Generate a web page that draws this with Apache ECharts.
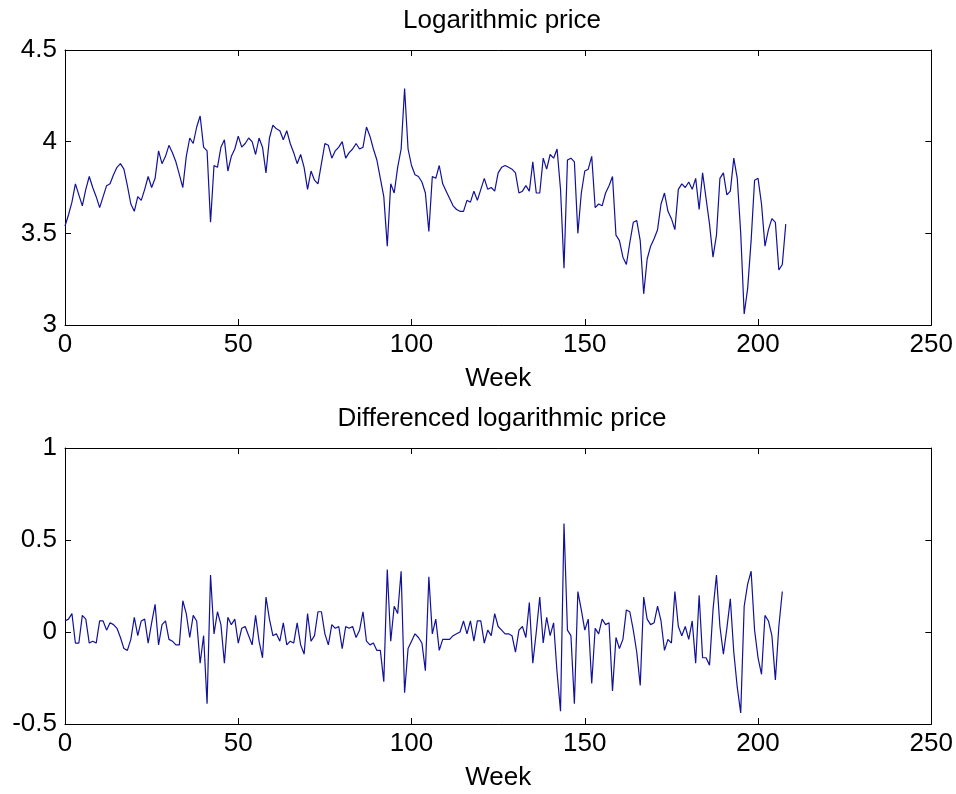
<!DOCTYPE html>
<html>
<head>
<meta charset="utf-8">
<script src="https://cdn.jsdelivr.net/npm/echarts@6/dist/echarts.min.js"></script>
<style>
html,body{margin:0;padding:0;background:#fff;}
#chart{width:956px;height:794px;}
</style>
</head>
<body>
<div id="chart"></div>
<script>
// Logarithmic price, week 0..208
var logPrice = [
3.54,3.60,3.67,3.77,3.71,3.65,3.74,3.81,3.75,3.70,
3.64,3.70,3.76,3.77,3.82,3.86,3.88,3.85,3.76,3.66,
3.62,3.70,3.68,3.74,3.81,3.75,3.80,3.95,3.88,3.92,
3.98,3.94,3.89,3.82,3.75,3.92,4.02,3.99,4.08,4.14,
3.97,3.95,3.56,3.87,3.86,3.97,4.01,3.84,3.92,3.96,
4.03,3.97,3.99,4.02,4.00,3.93,4.02,3.97,3.83,4.02,
4.09,4.07,4.06,4.01,4.06,3.99,3.94,3.88,3.93,3.86,
3.74,3.84,3.79,3.77,3.88,3.99,3.98,3.91,3.95,3.97,
4.00,3.91,3.94,3.96,3.99,3.96,3.97,4.08,4.03,3.96,
3.90,3.80,3.70,3.43,3.77,3.72,3.86,3.96,4.29,3.96,
3.87,3.82,3.81,3.78,3.72,3.51,3.81,3.80,3.87,3.77,
3.73,3.69,3.65,3.63,3.62,3.62,3.68,3.67,3.73,3.68,
3.74,3.80,3.74,3.75,3.73,3.83,3.86,3.87,3.86,3.85,
3.83,3.72,3.73,3.76,3.73,3.89,3.72,3.72,3.91,3.85,
3.93,3.91,3.96,3.74,3.31,3.90,3.91,3.89,3.50,3.72,
3.84,3.85,3.92,3.64,3.66,3.65,3.72,3.76,3.81,3.49,
3.46,3.37,3.33,3.45,3.56,3.57,3.46,3.17,3.36,3.43,
3.47,3.52,3.66,3.72,3.62,3.58,3.52,3.74,3.77,3.75,
3.78,3.74,3.80,3.63,3.83,3.69,3.55,3.37,3.49,3.80,
3.83,3.71,3.73,3.91,3.80,3.50,3.06,3.20,3.46,3.79,
3.80,3.66,3.43,3.52,3.58,3.56,3.30,3.33,3.55
];

// Differenced logarithmic price, week 0..207
var diffPrice = [
0.06,0.07,0.10,-0.06,-0.06,0.09,0.07,-0.06,-0.05,-0.06,
0.06,0.06,0.01,0.05,0.04,0.02,-0.03,-0.09,-0.10,-0.04,
0.08,-0.02,0.06,0.07,-0.06,0.05,0.15,-0.07,0.04,0.06,
-0.04,-0.05,-0.07,-0.07,0.17,0.10,-0.03,0.09,0.06,-0.17,
-0.02,-0.39,0.31,-0.01,0.11,0.04,-0.17,0.08,0.04,0.07,
-0.06,0.02,0.03,-0.02,-0.07,0.09,-0.05,-0.14,0.19,0.07,
-0.02,-0.01,-0.05,0.05,-0.07,-0.05,-0.06,0.05,-0.07,-0.12,
0.10,-0.05,-0.02,0.11,0.11,-0.01,-0.07,0.04,0.02,0.03,
-0.09,0.03,0.02,0.03,-0.03,0.01,0.11,-0.05,-0.07,-0.06,
-0.10,-0.10,-0.27,0.34,-0.05,0.14,0.10,0.33,-0.33,-0.09,
-0.05,-0.01,-0.03,-0.06,-0.21,0.30,-0.01,0.07,-0.10,-0.04,
-0.04,-0.04,-0.02,-0.01,0.00,0.06,-0.01,0.06,-0.05,0.06,
0.06,-0.06,0.01,-0.02,0.10,0.03,0.01,-0.01,-0.01,-0.02,
-0.11,0.01,0.03,-0.03,0.16,-0.17,0.00,0.19,-0.06,0.08,
-0.02,0.05,-0.22,-0.43,0.59,0.01,-0.02,-0.39,0.22,0.12,
0.01,0.07,-0.28,0.02,-0.01,0.07,0.04,0.05,-0.32,-0.03,
-0.09,-0.04,0.12,0.11,0.01,-0.11,-0.29,0.19,0.07,0.04,
0.05,0.14,0.06,-0.10,-0.04,-0.06,0.22,0.03,-0.02,0.03,
-0.04,0.06,-0.17,0.20,-0.14,-0.14,-0.18,0.12,0.31,0.03,
-0.12,0.02,0.18,-0.11,-0.30,-0.44,0.14,0.26,0.33,0.01,
-0.14,-0.23,0.09,0.06,-0.02,-0.26,0.03,0.22
];

var xTicks = [0, 50, 100, 150, 200, 250];
var yTicksTop = [3, 3.5, 4, 4.5];
var yTicksBottom = [-0.5, 0, 0.5, 1];

var titles = ['Logarithmic price', 'Differenced logarithmic price'];
var xLabel = 'Week';

function pairs(arr) {
  var out = [];
  for (var i = 0; i < arr.length; i++) out.push([i, arr[i]]);
  return out;
}

var FONT = '"Liberation Sans", Arial, sans-serif';
var FS = 26;
var lineColor = '#000';

function xAx(gi, pos) {
  var bottom = pos === 'bottom';
  return {
    type: 'value', gridIndex: gi, position: pos,
    min: xTicks[0], max: xTicks[xTicks.length - 1],
    interval: xTicks[1] - xTicks[0],
    axisLine: {show: true, onZero: false, lineStyle: {color: lineColor, width: 1}},
    axisTick: {show: true, inside: true, length: 6, lineStyle: {color: lineColor}},
    axisLabel: {show: bottom, color: '#000', fontFamily: FONT, fontSize: FS, margin: 7},
    splitLine: {show: false},
    name: bottom ? xLabel : '',
    nameLocation: 'middle', nameGap: 41,
    nameTextStyle: {color: '#000', fontFamily: FONT, fontSize: FS}
  };
}
function yAx(gi, pos, ticks) {
  var left = pos === 'left';
  return {
    type: 'value', gridIndex: gi, position: pos,
    min: ticks[0], max: ticks[ticks.length - 1],
    interval: ticks[1] - ticks[0],
    axisLine: {show: true, onZero: false, lineStyle: {color: lineColor, width: 1}},
    axisTick: {show: true, inside: true, length: 6, lineStyle: {color: lineColor}},
    axisLabel: {show: left, color: '#000', fontFamily: FONT, fontSize: FS, margin: 8},
    splitLine: {show: false}
  };
}

var chart = echarts.init(document.getElementById('chart'), null, {renderer: 'canvas'});
chart.setOption({
  animation: false,
  backgroundColor: '#fff',
  title: [
    {text: titles[0], left: 497, top: 3, textAlign: 'center',
     textStyle: {color: '#000', fontFamily: FONT, fontSize: FS, fontWeight: 'normal'}},
    {text: titles[1], left: 497, top: 401, textAlign: 'center',
     textStyle: {color: '#000', fontFamily: FONT, fontSize: FS, fontWeight: 'normal'}}
  ],
  grid: [
    {left: 65, right: 23, top: 50, height: 275},
    {left: 65, right: 23, top: 448, height: 276}
  ],
  xAxis: [xAx(0, 'bottom'), xAx(0, 'top'), xAx(1, 'bottom'), xAx(1, 'top')],
  yAxis: [yAx(0, 'left', yTicksTop), yAx(0, 'right', yTicksTop),
          yAx(1, 'left', yTicksBottom), yAx(1, 'right', yTicksBottom)],
  series: [
    {type: 'line', xAxisIndex: 0, yAxisIndex: 0, data: pairs(logPrice),
     showSymbol: false, lineStyle: {color: '#11119a', width: 1.2}},
    {type: 'line', xAxisIndex: 2, yAxisIndex: 2, data: pairs(diffPrice),
     showSymbol: false, lineStyle: {color: '#11119a', width: 1.2}}
  ]
});
</script>
</body>
</html>
